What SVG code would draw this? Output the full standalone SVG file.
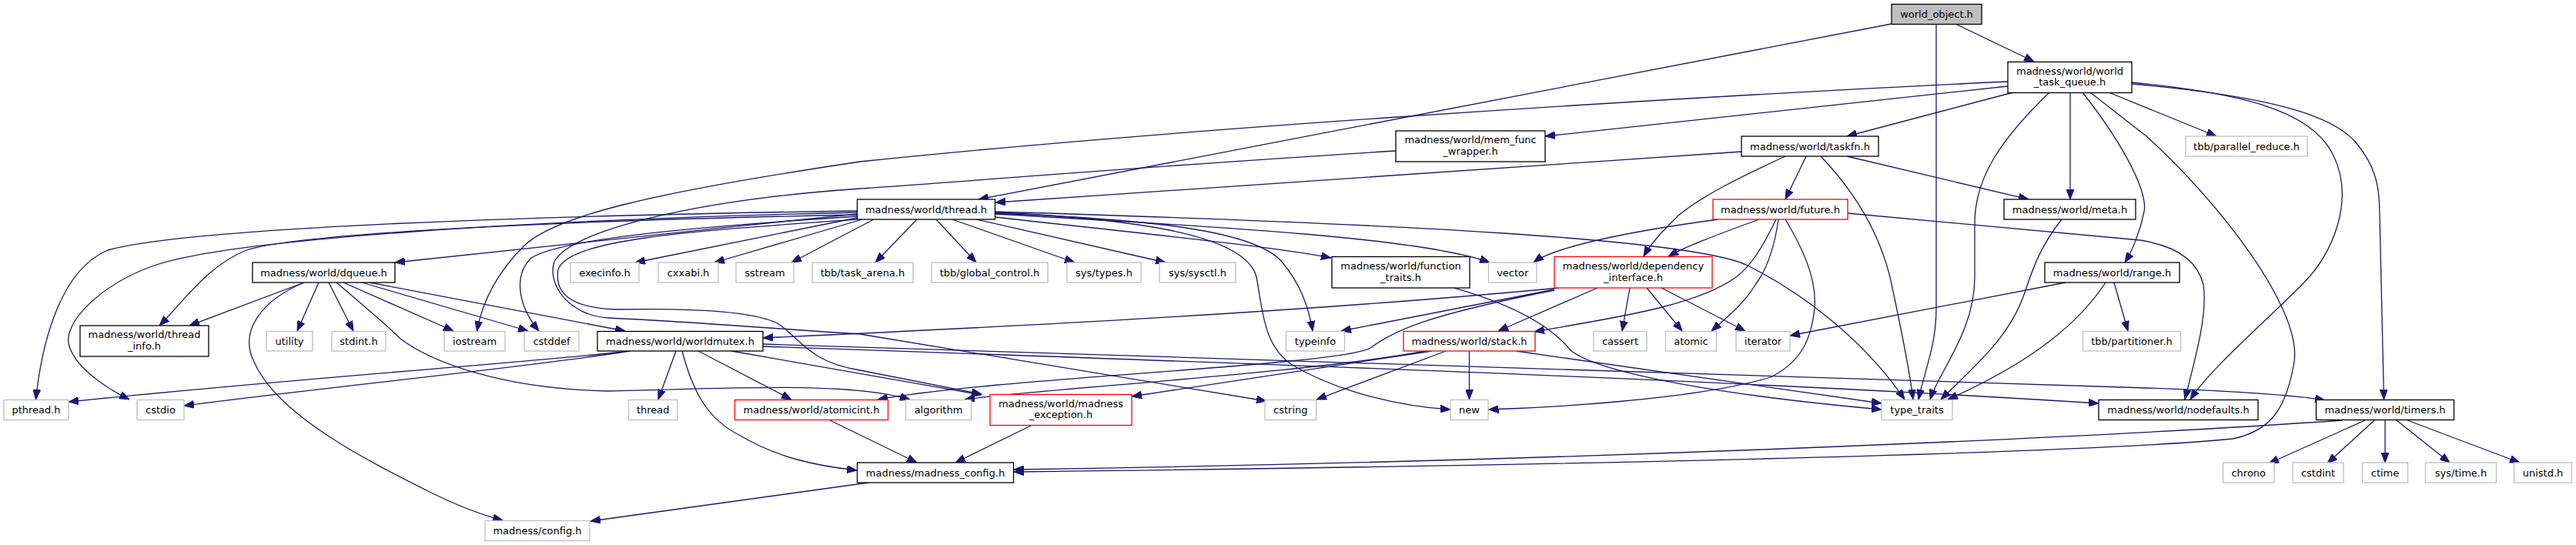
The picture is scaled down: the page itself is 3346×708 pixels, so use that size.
<svg xmlns="http://www.w3.org/2000/svg" width="3346" height="708" viewBox="0 0 3346 708">
<style>
text{font-family:"DejaVu Sans","Liberation Sans",sans-serif;font-size:13px;fill:#000;text-anchor:middle}
rect{fill:#fff;stroke-width:1.3}
.b rect{stroke:#000}
.g rect{stroke:#bfbfbf}
.r rect{stroke:#ff0000}
.root rect{fill:#bfbfbf;stroke:#000}
#edges path{fill:none;stroke:#191970;stroke-width:1.3;marker-end:url(#a)}
</style>
<defs>
<marker id="a" viewBox="0 0 13 10" refX="13" refY="5" markerWidth="13" markerHeight="10" markerUnits="userSpaceOnUse" orient="auto">
<path d="M0,0 L13,5 L0,10 z" fill="#191970" stroke="#191970"/>
</marker>
</defs>
<rect x="0" y="0" width="3346" height="708" style="fill:#fff;stroke:none"/>
<g id="edges">
<path d="M2457,31 L1271,259"/>
<path d="M2515,31 L2515,400 C2515,450 2500,480 2492,519"/>
<path d="M2540,31 L2642,80"/>
<path d="M2608,106 C2100,130 1500,170 1117,210 C850,250 720,280 680,320 C640,360 625,400 619.5,430"/>
<path d="M2608,112 L2007,177"/>
<path d="M2615,120 L2399,177"/>
<path d="M2662,120 C2600,180 2565,230 2565,290 L2565,360 C2565,430 2520,480 2507,519"/>
<path d="M2689,120 L2689,259"/>
<path d="M2705,120 C2760,190 2790,250 2785,275 C2780,300 2770,325 2760,341"/>
<path d="M2715,120 L2788,177 C2880,260 2990,400 2980,470 C2970,530 2950,560 2900,570 C2700,590 2000,605 1317,613"/>
<path d="M2739,120 L2879,177"/>
<path d="M2769,107 C2900,120 3000,140 3030,200 C3060,260 3030,330 2990,370 C2940,420 2870,480 2845,519"/>
<path d="M2769,109 C2950,125 3030,150 3060,185 C3085,215 3091,240 3091,280 L3096.5,519"/>
<path d="M2262,197 C1900,222 1500,248 1293,263"/>
<path d="M2346,203 L2319,259"/>
<path d="M2399,203 L2635,259"/>
<path d="M2319,203 C2260,230 2210,255 2180,280 C2160,300 2145,315 2135,333"/>
<path d="M2365,203 C2410,250 2440,300 2455,360 C2468,420 2480,480 2485,519"/>
<path d="M2232,285 C2120,300 2020,320 1992,341"/>
<path d="M2285,285 C2230,305 2190,320 2167,333"/>
<path d="M2307,285 C2290,320 2275,345 2255,360 C2200,400 2080,415 1993,431"/>
<path d="M2310,285 C2305,320 2295,350 2280,370 C2265,395 2240,415 2223,430"/>
<path d="M2319,285 C2340,320 2360,360 2357,400 C2353,440 2340,470 2300,490 C2200,520 2000,530 1933.5,532"/>
<path d="M2400,277 L2780,312 C2830,320 2855,340 2862,370 C2868,410 2850,470 2838,519"/>
<path d="M2678,285 C2650,320 2640,350 2630,380 C2610,440 2560,480 2521,519"/>
<path d="M2683,367 L2325,436"/>
<path d="M2735,367 C2700,420 2640,470 2530,519"/>
<path d="M2746,367 L2764,430"/>
<path d="M1113,278 C900,300 650,325 513,341"/>
<path d="M1113,274 C700,280 250,295 140,325 C80,350 55,440 46.5,519"/>
<path d="M1113,276 C700,285 300,310 200,345 C130,370 80,420 90,450 C100,480 140,505 168,519"/>
<path d="M1113,279 C800,285 400,300 320,325 C270,345 240,390 207,423"/>
<path d="M1113,281 C900,295 730,310 690,335 C665,360 675,400 700,430"/>
<path d="M1113,283 L825,341"/>
<path d="M1120,285 L928,341"/>
<path d="M1135,285 L1028,341"/>
<path d="M1191,285 L1137,341"/>
<path d="M1216,285 L1268,341"/>
<path d="M1237,285 L1396,341"/>
<path d="M1268,285 L1514,341"/>
<path d="M1292,282 C1500,305 1650,320 1729,335"/>
<path d="M1292,278 C1600,295 1850,310 1935,341"/>
<path d="M1292,275 C1800,290 2200,310 2270,345 C2340,380 2420,440 2474,519"/>
<path d="M1292,277 C1500,285 1630,300 1665,340 C1690,370 1700,400 1705,430"/>
<path d="M1292,276 C1500,285 1620,310 1632,360 C1640,400 1640,450 1680,475 C1740,510 1820,528 1884,532"/>
<path d="M1113,285 C900,300 740,310 725,350 C720,380 740,400 800,402 C900,400 980,405 1010,420 C1040,440 1050,470 1117,481 L1275,512"/>
<path d="M1813,196 C1500,215 1200,240 1117,245 C900,260 740,300 720,340 C710,370 740,410 790,413 C900,418 1050,430 1117,434 L1645,521"/>
<path d="M395,367 L246,423"/>
<path d="M395,367 C340,390 310,430 330,470 C360,540 480,600 560,640 C600,660 630,670 653,676"/>
<path d="M414,367 L386,430"/>
<path d="M427,367 L459,430"/>
<path d="M437,367 C470,395 500,420 520,440 C560,470 650,505 790,508 C950,505 1100,495 1182,519"/>
<path d="M446,367 L589,430"/>
<path d="M470,367 L686,430"/>
<path d="M480,367 L812,430"/>
<path d="M818,456 C700,470 400,490 89,522"/>
<path d="M818,456 C700,475 450,500 239,527"/>
<path d="M878,456 L855,519"/>
<path d="M907,456 L1028,519"/>
<path d="M886,456 C900,510 920,545 960,565 C1010,595 1060,605 1113,611"/>
<path d="M950,456 L1275,513"/>
<path d="M991,447 L2788,504 C2900,508 2980,513 3020,520"/>
<path d="M991,450 C1800,478 2300,497 2726,524"/>
<path d="M2025,374 C1700,405 1300,425 991,439"/>
<path d="M2019,376 L1742,430"/>
<path d="M2019,377 C1850,410 1810,430 1780,452 C1740,475 1300,490 1140,519"/>
<path d="M2075,374 L1946,430"/>
<path d="M2117,374 L2107,430"/>
<path d="M2139,374 L2185,430"/>
<path d="M2158,374 L2267,430"/>
<path d="M1851,456 C1700,485 1350,505 1253,519"/>
<path d="M1860,456 L1470,515"/>
<path d="M1878,456 L1710,519"/>
<path d="M1908.5,456 L1908.5,519"/>
<path d="M1969,456 L2444,524"/>
<path d="M1889,374 C1980,400 2020,430 2040,455 C2070,480 2200,510 2444,532"/>
<path d="M1078,546 L1191,601"/>
<path d="M1339,553 L1241,601"/>
<path d="M1128,627 L767,677"/>
<path d="M3043,546 C2700,570 2000,600 1317,610"/>
<path d="M3072,546 L2947,602"/>
<path d="M3084,546 L3023,602"/>
<path d="M3098,546 L3098,601"/>
<path d="M3113,546 L3182,601"/>
<path d="M3127,546 L3273,601"/>
</g>
<g id="n0" class="root"><rect x="2457" y="5.5" width="117" height="26"/><text x="2515.5" y="23">world_object.h</text></g>
<g id="n1" class="b"><rect x="2608" y="80.5" width="161" height="40"/><text x="2688.5" y="96.5">madness/world/world</text><text x="2688.5" y="111">_task_queue.h</text></g>
<g id="n2" class="b"><rect x="1813" y="170" width="194" height="40"/><text x="1910" y="186">madness/world/mem_func</text><text x="1910" y="200.5">_wrapper.h</text></g>
<g id="n3" class="b"><rect x="2262" y="177" width="178" height="26"/><text x="2351" y="194.5">madness/world/taskfn.h</text></g>
<g id="n4" class="g"><rect x="2839" y="177" width="158" height="26"/><text x="2918" y="194.5">tbb/parallel_reduce.h</text></g>
<g id="n5" class="b"><rect x="1113.5" y="259" width="179" height="26"/><text x="1203" y="276.5">madness/world/thread.h</text></g>
<g id="n6" class="r"><rect x="2225" y="259" width="175" height="26"/><text x="2312.5" y="276.5">madness/world/future.h</text></g>
<g id="n7" class="b"><rect x="2603" y="259" width="171" height="26"/><text x="2688.5" y="276.5">madness/world/meta.h</text></g>
<g id="n8" class="b"><rect x="328" y="341" width="185" height="26"/><text x="420.5" y="358.5">madness/world/dqueue.h</text></g>
<g id="n9" class="g"><rect x="741" y="341" width="89" height="26"/><text x="785.5" y="358.5">execinfo.h</text></g>
<g id="n10" class="g"><rect x="855" y="341" width="78" height="26"/><text x="894" y="358.5">cxxabi.h</text></g>
<g id="n11" class="g"><rect x="956" y="341" width="75" height="26"/><text x="993.5" y="358.5">sstream</text></g>
<g id="n12" class="g"><rect x="1055" y="341" width="131" height="26"/><text x="1120.5" y="358.5">tbb/task_arena.h</text></g>
<g id="n13" class="g"><rect x="1210" y="341" width="151" height="26"/><text x="1285.5" y="358.5">tbb/global_control.h</text></g>
<g id="n14" class="g"><rect x="1386" y="341" width="96" height="26"/><text x="1434" y="358.5">sys/types.h</text></g>
<g id="n15" class="g"><rect x="1506" y="341" width="99" height="26"/><text x="1555.5" y="358.5">sys/sysctl.h</text></g>
<g id="n16" class="b"><rect x="1730" y="333.5" width="179" height="40.5"/><text x="1819.5" y="350">madness/world/function</text><text x="1819.5" y="364.5">_traits.h</text></g>
<g id="n17" class="g"><rect x="1933.5" y="341" width="62.5" height="26"/><text x="1964.75" y="358.5">vector</text></g>
<g id="n18" class="r"><rect x="2019" y="333.5" width="205" height="40.5"/><text x="2121.5" y="350">madness/world/dependency</text><text x="2121.5" y="364.5">_interface.h</text></g>
<g id="n19" class="b"><rect x="2656" y="341" width="175" height="26"/><text x="2743.5" y="358.5">madness/world/range.h</text></g>
<g id="n20" class="b"><rect x="104" y="423" width="167" height="40"/><text x="187.5" y="439">madness/world/thread</text><text x="187.5" y="453.5">_info.h</text></g>
<g id="n21" class="g"><rect x="346" y="430.5" width="60" height="25.5"/><text x="376" y="448">utility</text></g>
<g id="n22" class="g"><rect x="431" y="430.5" width="70" height="25.5"/><text x="466" y="448">stdint.h</text></g>
<g id="n23" class="g"><rect x="577" y="430.5" width="79" height="25.5"/><text x="616.5" y="448">iostream</text></g>
<g id="n24" class="g"><rect x="681" y="430.5" width="71" height="25.5"/><text x="716.5" y="448">cstddef</text></g>
<g id="n25" class="b"><rect x="776" y="430.5" width="215" height="25.5"/><text x="883.5" y="448">madness/world/worldmutex.h</text></g>
<g id="n26" class="g"><rect x="1670.5" y="430.5" width="76" height="25.5"/><text x="1708.5" y="448">typeinfo</text></g>
<g id="n27" class="r"><rect x="1823" y="430.5" width="171" height="25.5"/><text x="1908.5" y="448">madness/world/stack.h</text></g>
<g id="n28" class="g"><rect x="2070" y="430.5" width="69" height="25.5"/><text x="2104.5" y="448">cassert</text></g>
<g id="n29" class="g"><rect x="2163.5" y="430.5" width="66" height="25.5"/><text x="2196.5" y="448">atomic</text></g>
<g id="n30" class="g"><rect x="2255" y="430.5" width="70" height="25.5"/><text x="2290" y="448">iterator</text></g>
<g id="n31" class="g"><rect x="2705.5" y="430.5" width="127" height="25.5"/><text x="2769" y="448">tbb/partitioner.h</text></g>
<g id="n32" class="g"><rect x="5" y="519.5" width="84" height="26"/><text x="47" y="537">pthread.h</text></g>
<g id="n33" class="g"><rect x="178" y="519.5" width="61" height="26"/><text x="208.5" y="537">cstdio</text></g>
<g id="n34" class="g"><rect x="816.5" y="519.5" width="63.5" height="26"/><text x="848.25" y="537">thread</text></g>
<g id="n35" class="r"><rect x="954.5" y="519.5" width="199" height="26"/><text x="1054" y="537">madness/world/atomicint.h</text></g>
<g id="n36" class="g"><rect x="1176.5" y="519.5" width="85" height="26"/><text x="1219" y="537">algorithm</text></g>
<g id="n37" class="r"><rect x="1286" y="512.5" width="184" height="40"/><text x="1378" y="528.5">madness/world/madness</text><text x="1378" y="543">_exception.h</text></g>
<g id="n38" class="g"><rect x="1643" y="519.5" width="66.5" height="26"/><text x="1676.25" y="537">cstring</text></g>
<g id="n39" class="g"><rect x="1884" y="519.5" width="49" height="26"/><text x="1908.5" y="537">new</text></g>
<g id="n40" class="g"><rect x="2444" y="519.5" width="92" height="26"/><text x="2490" y="537">type_traits</text></g>
<g id="n41" class="b"><rect x="2726" y="519.5" width="207" height="26"/><text x="2829.5" y="537">madness/world/nodefaults.h</text></g>
<g id="n42" class="b"><rect x="3008.5" y="519.5" width="179" height="26"/><text x="3098" y="537">madness/world/timers.h</text></g>
<g id="n43" class="b"><rect x="1113.5" y="601" width="203" height="26"/><text x="1215" y="618.5">madness/madness_config.h</text></g>
<g id="n44" class="g"><rect x="2887.5" y="601" width="66.5" height="26"/><text x="2920.75" y="618.5">chrono</text></g>
<g id="n45" class="g"><rect x="2978" y="601" width="66" height="26"/><text x="3011" y="618.5">cstdint</text></g>
<g id="n46" class="g"><rect x="3068.5" y="601" width="59" height="26"/><text x="3098" y="618.5">ctime</text></g>
<g id="n47" class="g"><rect x="3150.5" y="601" width="92" height="26"/><text x="3196.5" y="618.5">sys/time.h</text></g>
<g id="n48" class="g"><rect x="3265.5" y="601" width="75" height="26"/><text x="3303" y="618.5">unistd.h</text></g>
<g id="n49" class="g"><rect x="630" y="676.5" width="136" height="26"/><text x="698" y="694">madness/config.h</text></g>
</svg>
